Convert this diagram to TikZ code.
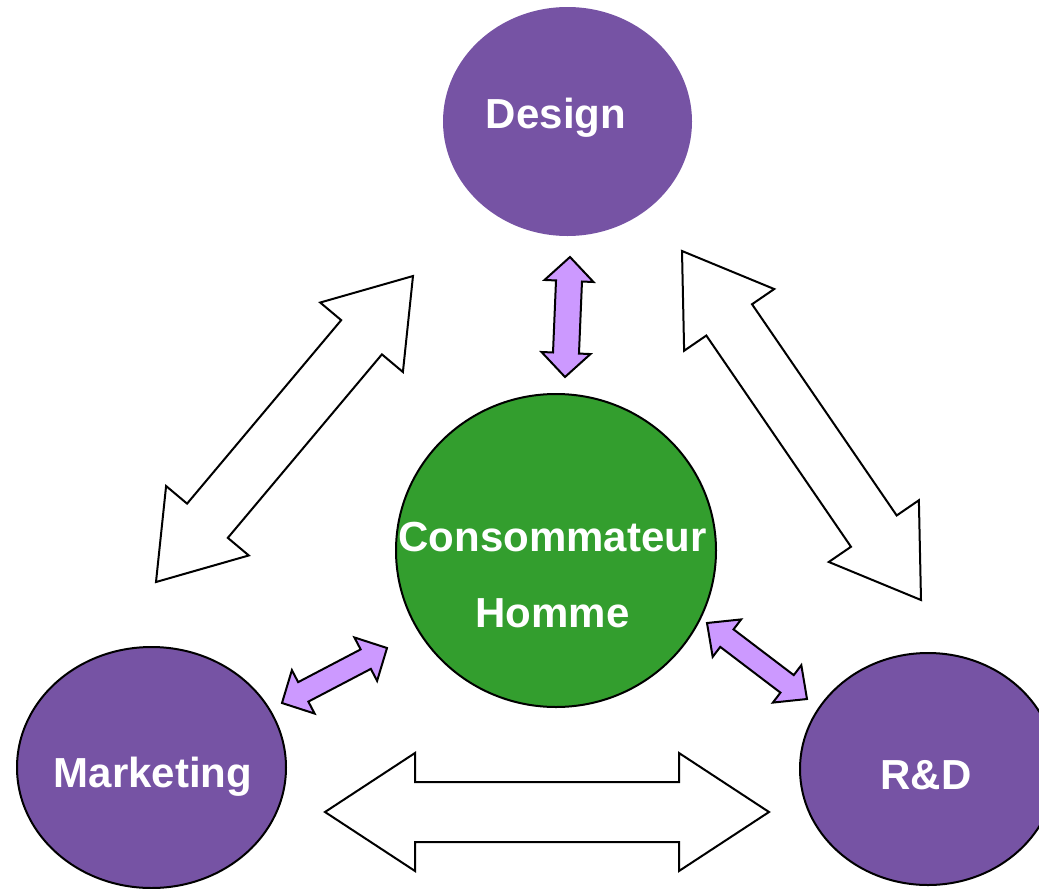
\documentclass[tikz,border=0pt]{standalone}
\usepackage{fontspec}
\setmainfont{Liberation Sans}
\usetikzlibrary{calc,shapes.geometric}
\definecolor{nodepurple}{RGB}{118,83,164}
\definecolor{nodegreen}{RGB}{51,158,46}
\definecolor{arrowlilac}{RGB}{204,153,255}
\tikzset{
  purplenode/.style={ellipse, fill=nodepurple, inner sep=0pt},
  greennode/.style={ellipse, fill=nodegreen, draw=black, line width=1.5pt, inner sep=0pt},
  lbl/.style={text=white, font=\fontsize{31.5pt}{36pt}\selectfont\bfseries, inner sep=0pt, anchor=base},
  hollowarrow/.style={draw=black, fill=white, line width=1.5pt, line join=miter},
  lilacarrow/.style={draw=black, fill=arrowlilac, line width=1.5pt, line join=miter},
}
% #1 start coordinate, #2 end coordinate, #3 shaft half width, #4 head half width, #5 head length (px), #6 style
\newcommand\dblarrow[6]{%
  \pgfmathsetmacro\dbW{#3*0.75}%
  \pgfmathsetmacro\dbH{#4*0.75}%
  \pgfmathsetmacro\dbL{#5*0.75}%
  \coordinate (#1-h) at ($(#1)!\dbL pt!(#2)$);
  \coordinate (#2-h) at ($(#2)!\dbL pt!(#1)$);
  \draw[#6] (#1) -- ($(#1-h)!\dbH pt!90:(#2)$) -- ($(#1-h)!\dbW pt!90:(#2)$)
    -- ($(#2-h)!\dbW pt!-90:(#1)$) -- ($(#2-h)!\dbH pt!-90:(#1)$) -- (#2)
    -- ($(#2-h)!\dbH pt!90:(#1)$) -- ($(#2-h)!\dbW pt!90:(#1)$)
    -- ($(#1-h)!\dbW pt!-90:(#2)$) -- ($(#1-h)!\dbH pt!-90:(#2)$) -- cycle;
}
\begin{document}
\begin{tikzpicture}[x=0.75pt,y=-0.75pt]
\useasboundingbox (0,0) rectangle (1039,889);
% main nodes
\node[purplenode, minimum width=249*0.75pt, minimum height=229*0.75pt] (design) at (567.5,121.5) {};
\node[purplenode, draw=black, line width=1.5pt, minimum width=269*0.75pt, minimum height=241*0.75pt] (marketing) at (151.5,767.5) {};
\node[purplenode, draw=black, line width=1.5pt, minimum width=256*0.75pt, minimum height=232*0.75pt] (rd) at (928,769) {};
\node[greennode, minimum width=320*0.75pt, minimum height=313*0.75pt] (conso) at (556,550.5) {};
% labels
\node[lbl] (tdesign) at (556,128) {Design};
\node[lbl] (tmarketing) at (153,787) {Marketing};
\node[lbl] (trd) at (926,789) {R\&D};
\node[lbl] (tconso) at (552.5,551) {Consommateur};
\node[lbl] (thomme) at (552.5,627) {Homme};
% arrow end points
\coordinate (lbA) at (156,582);
\coordinate (lbB) at (413,276);
\coordinate (rbA) at (682,251);
\coordinate (rbB) at (921,600);
\coordinate (bbA) at (325,812);
\coordinate (bbB) at (769,812);
\coordinate (vpA) at (570,257);
\coordinate (vpB) at (565,377);
\coordinate (lpA) at (282,703);
\coordinate (lpB) at (387,648);
\coordinate (rpA) at (707,623);
\coordinate (rpB) at (807,699);
% arrows
\dblarrow{lbA}{lbB}{26.6}{54}{80}{hollowarrow}
\dblarrow{rbA}{rbB}{27.7}{54.6}{83.5}{hollowarrow}
\dblarrow{bbA}{bbB}{30}{59}{90}{hollowarrow}
\dblarrow{vpA}{vpB}{13}{24.5}{24}{lilacarrow}
\dblarrow{lpA}{lpB}{11}{24.5}{24}{lilacarrow}
\dblarrow{rpA}{rpB}{11}{23.5}{25}{lilacarrow}
\end{tikzpicture}
\end{document}
